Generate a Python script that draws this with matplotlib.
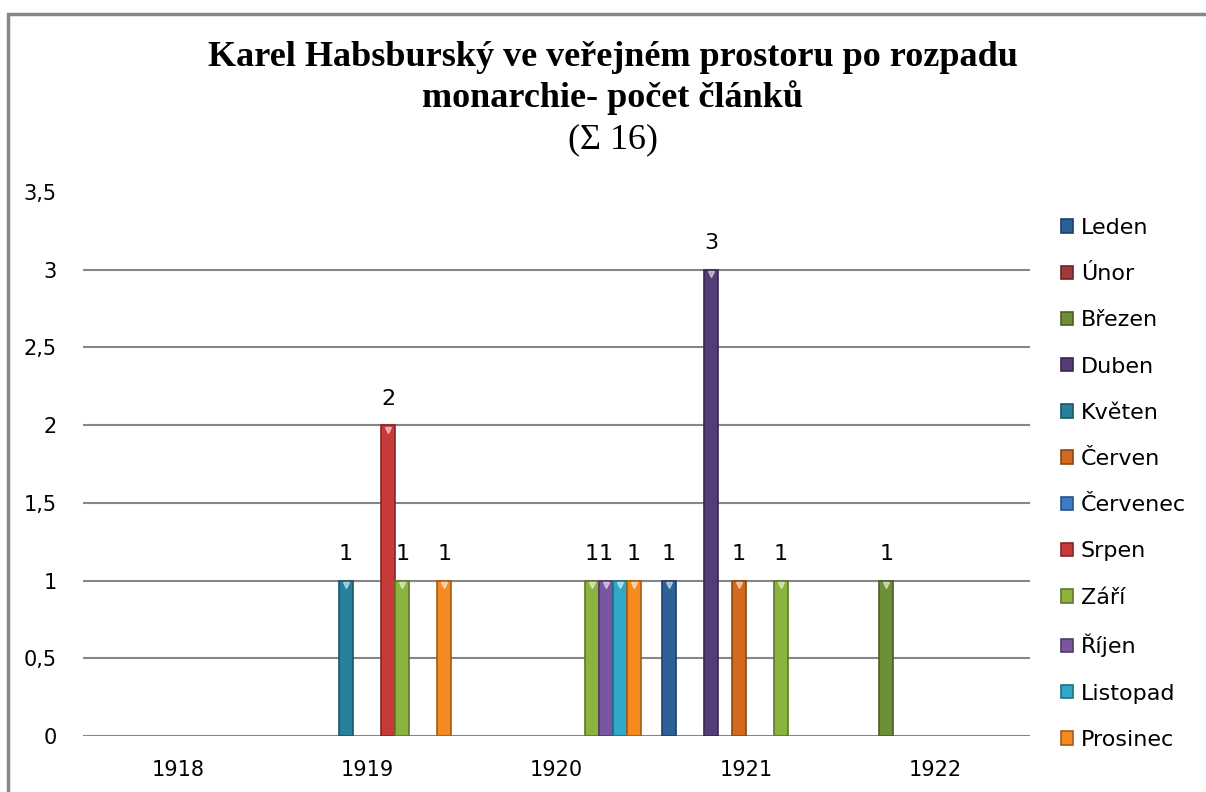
import matplotlib
matplotlib.use("Agg")
import matplotlib.pyplot as plt
import numpy as np
from matplotlib.patches import Rectangle
from matplotlib.ticker import FuncFormatter

# categories and series (articles per month)
years = ["1918", "1919", "1920", "1921", "1922"]
months = ["Leden", "Únor", "Březen", "Duben", "Květen", "Červen",
          "Červenec", "Srpen", "Září", "Říjen", "Listopad", "Prosinec"]

leden = [0, 0, 0, 1, 0]
unor = [0, 0, 0, 0, 0]
brezen = [0, 0, 0, 0, 1]
duben = [0, 0, 0, 3, 0]
kveten = [0, 1, 0, 0, 0]
cerven = [0, 0, 0, 1, 0]
cervenec = [0, 0, 0, 0, 0]
srpen = [0, 2, 0, 0, 0]
zari = [0, 1, 1, 1, 0]
rijen = [0, 0, 1, 0, 0]
listopad = [0, 0, 1, 0, 0]
prosinec = [0, 1, 1, 0, 0]

series = [leden, unor, brezen, duben, kveten, cerven,
          cervenec, srpen, zari, rijen, listopad, prosinec]

# data label that the source chart does not show (overlap)
hidden_labels = [("Listopad", "1920")]

colors = ["#2D5F98", "#9E3A38", "#6F8F36", "#553C78", "#27819C", "#D2691E",
          "#3C7DC4", "#C63A3C", "#8DB33F", "#7A55A0", "#31A8C8", "#F58A23"]
edges = ["#1E4068", "#6A2624", "#4A6024", "#392850", "#1A5668", "#8E4614",
         "#285484", "#852628", "#5E782A", "#52396B", "#216F86", "#A45C17"]

fig = plt.figure(figsize=(12.06, 7.92), dpi=100)
ax = fig.add_axes([83 / 1206, 56 / 792, 947 / 1206, 544 / 792])

# chart frame (cropped on right/bottom like the source)
fig.patches.append(Rectangle((8 / 1206, -0.1), 1.2, (792 - 14) / 792 + 0.1,
                             transform=fig.transFigure, fill=False,
                             edgecolor="#868686", linewidth=2.5))

x = np.arange(len(years))
slot = 1 / 13.5
for i, (name, vals) in enumerate(zip(months, series)):
    pos = x + (i - 5.5) * slot
    v = np.array(vals, dtype=float)
    v[v == 0] = np.nan  # empty cells: no bar
    ax.bar(pos, v, width=slot, color=colors[i], edgecolor=edges[i],
           linewidth=1.2, label=name, zorder=3)
    for px, val, yr in zip(pos, vals, years):
        if val > 0:
            ax.plot(px, val - 0.03, marker="v", markersize=5, color="white",
                    alpha=0.5, zorder=4)
            if (name, yr) in hidden_labels:
                continue
            ax.annotate(str(val), (px, val), xytext=(0, 19), textcoords="offset points",
                        ha="center", va="center", fontsize=16, color="black")

ax.set_xlim(-0.5, len(years) - 0.5)
ax.set_ylim(0, 3.5)
ax.set_yticks(np.arange(0, 3.51, 0.5))
ax.yaxis.set_major_formatter(FuncFormatter(lambda v, p: f"{v:g}".replace(".", ",")))
ax.set_xticks(x)
ax.set_xticklabels(years)
ax.tick_params(axis="both", length=0, labelsize=15)
ax.tick_params(axis="y", pad=19)
ax.tick_params(axis="x", pad=17)
for s in ax.spines.values():
    s.set_visible(False)
ax.yaxis.grid(True, color="#868686", linewidth=1.5, zorder=0)
ax.get_ygridlines()[-1].set_visible(False)
ax.set_axisbelow(True)

leg = ax.legend(loc="upper left", bbox_to_anchor=(1052 / 1206, 1 - 209 / 792),
                bbox_transform=fig.transFigure, frameon=False, fontsize=16,
                handlelength=0.55, handleheight=0.55, handletextpad=0.35,
                labelspacing=1.18, borderaxespad=0)

fig.text(0.508, 1 - 57 / 792, "Karel Habsburský ve veřejném prostoru po rozpadu",
         ha="center", va="center", fontsize=26, fontweight="bold",
         family="Liberation Serif")
fig.text(0.508, 1 - 98 / 792, "monarchie- počet článků",
         ha="center", va="center", fontsize=26, fontweight="bold",
         family="Liberation Serif")
fig.text(0.508, 1 - 140 / 792, "(Σ 16)",
         ha="center", va="center", fontsize=26, family="Liberation Serif")

fig.savefig("out.png", dpi=100)
